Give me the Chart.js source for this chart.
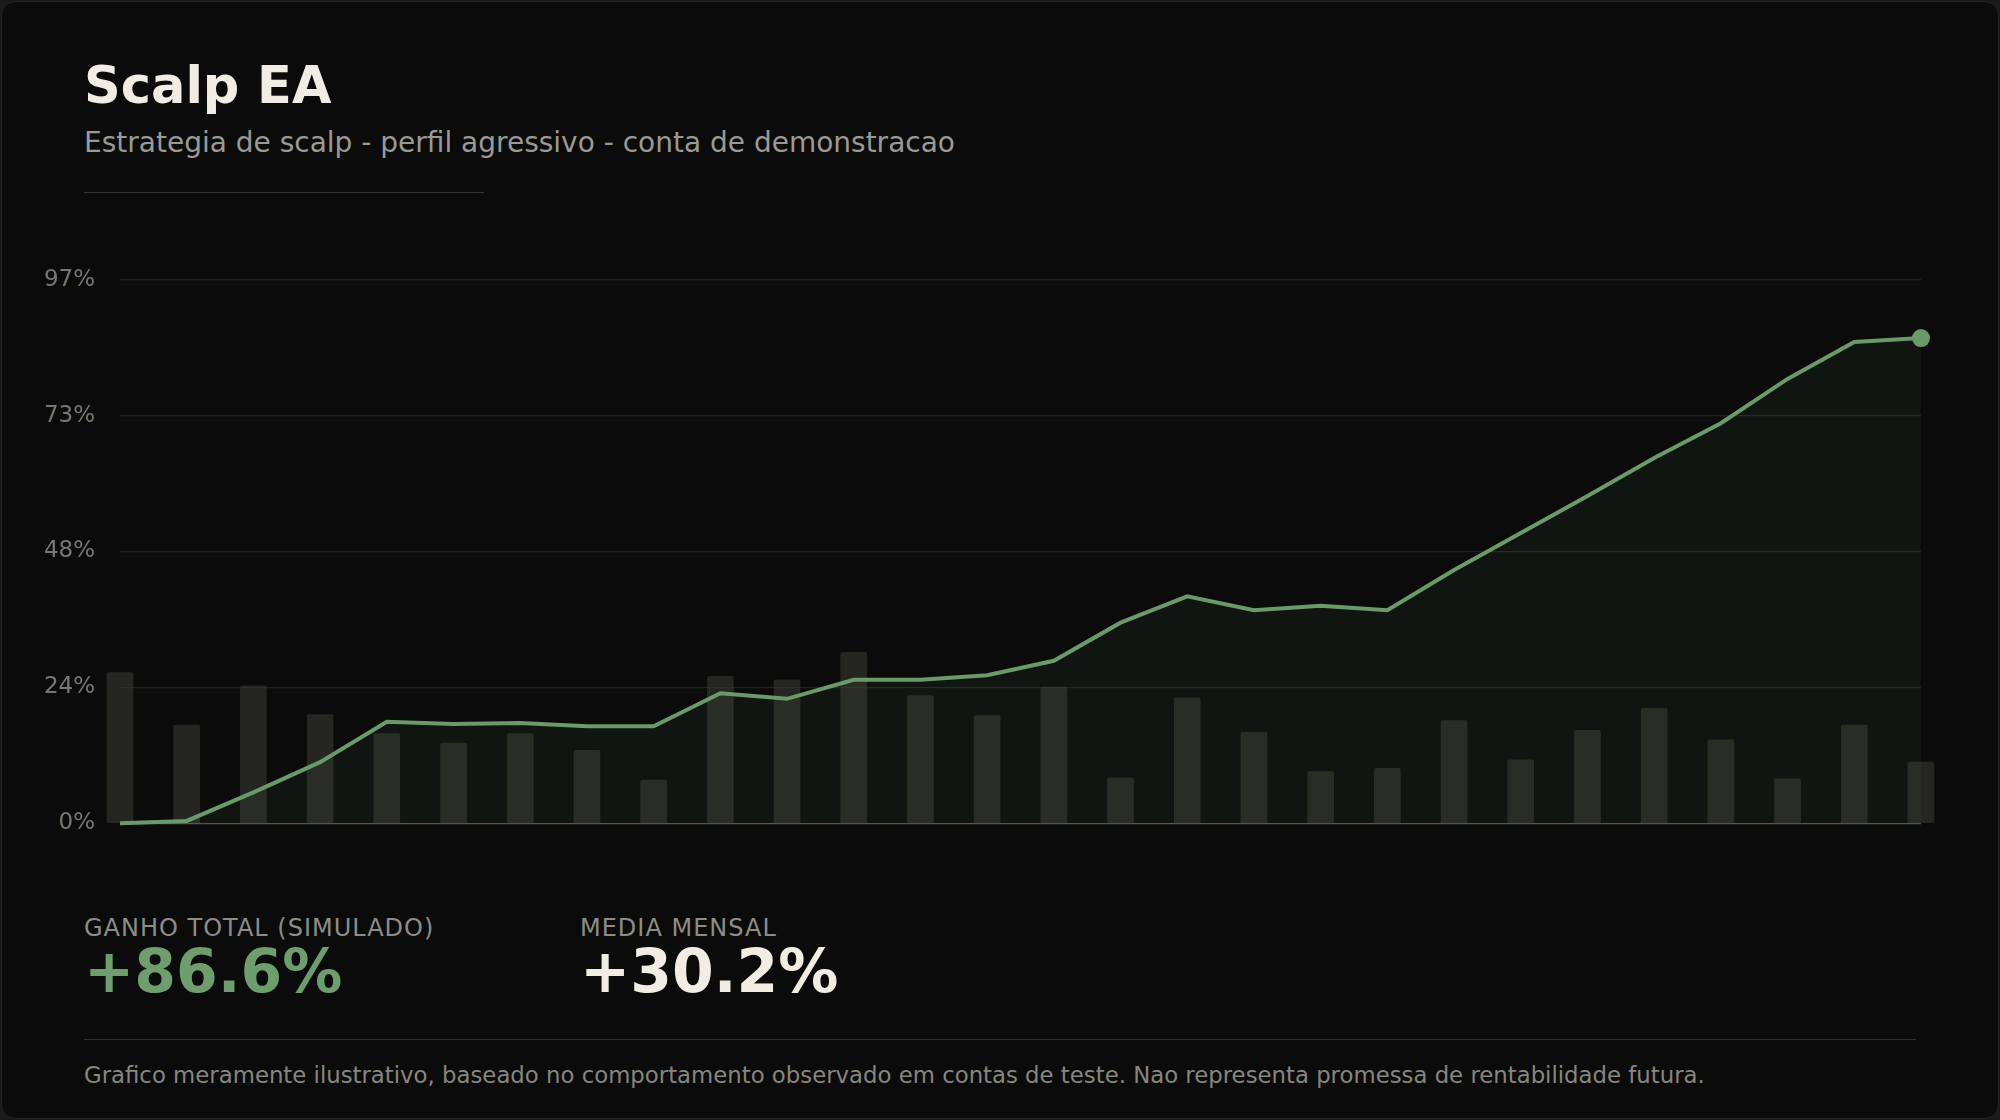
<!DOCTYPE html>
<html>
<head>
<meta charset="utf-8">
<script src="https://cdn.jsdelivr.net/npm/chart.js@4"></script>
<style>
  html, body { margin: 0; padding: 0; background: #1a1a1a; }
  body { width: 2000px; height: 1120px; position: relative; font-family: "DejaVu Sans", sans-serif; overflow: hidden; }
  .card { position: absolute; left: 1px; top: 1px; width: 1996px; height: 1116px; background: #0b0b0b; border-radius: 14px; border: 1px solid #222; }
  .t { position: absolute; white-space: nowrap; }
  #wrap { position: absolute; left: 20px; top: 241px; width: 1960px; height: 621px; }
</style>
</head>
<body>
<div class="card"></div>
<div class="t" style="left:84px;top:56px;font-size:51px;font-weight:bold;color:#f2ede4;">Scalp EA</div>
<div class="t" style="left:84px;top:126px;font-size:28px;color:#9a9a94;">Estrategia de scalp - perfil agressivo - conta de demonstracao</div>
<div style="position:absolute;left:84px;top:192px;width:400px;height:1px;background:#333;"></div>
<div id="wrap"><canvas id="c"></canvas></div>
<div class="t" style="left:84px;top:914px;font-size:24px;letter-spacing:1px;color:#8d8d88;">GANHO TOTAL (SIMULADO)</div>
<div class="t" style="left:84px;top:936px;font-size:60px;font-weight:bold;color:#6e9e6e;">+86.6%</div>
<div class="t" style="left:580px;top:914px;font-size:24px;letter-spacing:1px;color:#8d8d88;">MEDIA MENSAL</div>
<div class="t" style="left:580px;top:936px;font-size:60px;font-weight:bold;color:#f2ede4;">+30.2%</div>
<div style="position:absolute;left:84px;top:1039px;width:1832px;height:1px;background:#2e2e2e;"></div>
<div class="t" style="left:84px;top:1062px;font-size:22.8px;color:#86867f;">Grafico meramente ilustrativo, baseado no comportamento observado em contas de teste. Nao representa promessa de rentabilidade futura.</div>
<script>
// curva de ganho acumulado (%)
const equity = [0, 0.4, 5.5, 10.9, 18.1, 17.7, 17.9, 17.3, 17.3, 23.2, 22.2, 25.6, 25.6, 26.4, 29.0,
  35.8, 40.5, 38.0, 38.8, 38.0, 45.2, 51.8, 58.4, 65.2, 71.4, 79.3, 85.9, 86.6];
// barras de fundo
const bars = [26.9, 17.5, 24.5, 19.4, 16.0, 14.3, 16.0, 13.0, 7.7, 26.2, 25.6, 30.5, 22.8, 19.2, 24.3,
  8.1, 22.4, 16.2, 9.2, 9.8, 18.3, 11.3, 16.6, 20.5, 14.9, 7.9, 17.5, 10.9];
const tickValues = [0, 24.25, 48.5, 72.75, 97];
const tickLabels = ['0%', '24%', '48%', '73%', '97%'];

const last = equity.length - 1;
const ctx = document.getElementById('c').getContext('2d');
new Chart(ctx, {
  data: {
    datasets: [{
      type: 'line',
      data: equity.map((v, i) => ({ x: i, y: v })),
      borderColor: '#6a9a6a',
      borderWidth: 4,
      backgroundColor: 'rgba(106,154,106,0.07)',
      fill: 'origin',
      tension: 0,
      pointRadius: equity.map((v, i) => i === last ? 9 : 0),
      pointBackgroundColor: '#6a9a6a',
      pointBorderWidth: 0,
      clip: false,
      order: 1
    }, {
      type: 'bar',
      data: bars.map((v, i) => ({ x: i, y: v })),
      backgroundColor: 'rgba(60,60,55,0.55)',
      barThickness: 26,
      borderRadius: { topLeft: 2, topRight: 2 },
      clip: false,
      order: 2
    }]
  },
  options: {
    responsive: true,
    maintainAspectRatio: false,
    animation: false,
    layout: { padding: { top: 20, bottom: 20, right: 59 } },
    plugins: { legend: { display: false }, tooltip: { enabled: false } },
    scales: {
      x: { type: 'linear', min: 0, max: last, display: false, offset: false },
      y: {
        min: 0, max: 97,
        afterBuildTicks: s => { s.ticks = tickValues.map(v => ({ value: v })); },
        afterFit: s => { s.width = 100; },
        ticks: {
          callback: (v, i) => tickLabels[i],
          color: '#77776f',
          font: { family: 'DejaVu Sans', size: 23 },
          padding: 25
        },
        grid: {
          color: c => c.tick && c.tick.value === 0 ? '#55554f' : '#232323',
          lineWidth: 1.3,
          drawTicks: false
        },
        border: { display: false }
      }
    }
  }
});
</script>
</body>
</html>
